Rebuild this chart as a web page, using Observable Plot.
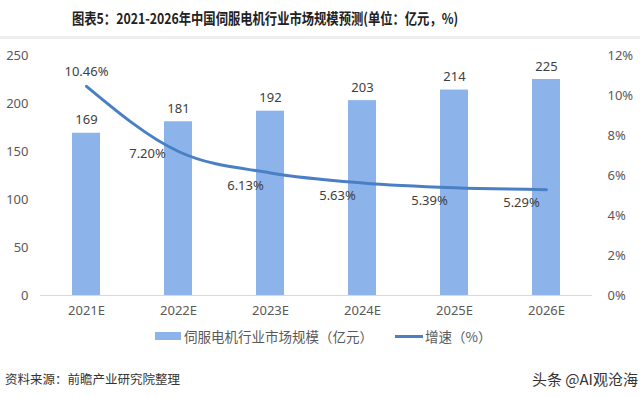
<!DOCTYPE html>
<html><head><meta charset="utf-8">
<script src="https://cdn.jsdelivr.net/npm/d3@7"></script>
<script src="https://cdn.jsdelivr.net/npm/@observablehq/plot@0.6"></script>
<style>
body{margin:0;background:#fff;font-family:"Noto Sans","Noto Sans CJK SC",sans-serif;}
#wrap{position:relative;width:640px;height:397px;overflow:hidden;background:#fff;}
#title{position:absolute;top:0;left:72px;height:36px;line-height:36px;white-space:nowrap;font-family:"Noto Sans CJK SC",sans-serif;font-weight:bold;font-size:15px;color:#222;transform:scaleX(0.82);transform-origin:left center;}
#sep{position:absolute;top:36px;left:0;width:640px;height:3px;background:#eeeeee;}
#chart{position:absolute;top:40px;left:0;}
#legend{position:absolute;top:326px;left:0;width:640px;height:20px;font-family:"Noto Sans CJK SC",sans-serif;font-size:13.5px;color:#595959;}
.sw{position:absolute;}
.lt{position:absolute;top:0;line-height:20px;white-space:nowrap;}
#src{position:absolute;left:5px;top:369px;font-family:"Noto Sans CJK SC",sans-serif;font-size:12.5px;color:#333;}
#wm{position:absolute;right:2px;top:368px;font-family:"Noto Sans CJK SC",sans-serif;font-size:15px;color:#333;}
</style></head>
<body><div id="wrap">
<div id="title">图表5：2021-2026年中国伺服电机行业市场规模预测(单位：亿元，%)</div>
<div id="sep"></div>
<div id="chart"></div>
<div id="legend">
  <div class="sw" style="left:155px;top:6px;width:26px;height:8px;background:#8cb4ea;"></div>
  <div class="lt" style="left:184px;">伺服电机行业市场规模（亿元）</div>
  <div class="sw" style="left:395px;top:9px;width:28px;height:3px;background:#4a7fc4;"></div>
  <div class="lt" style="left:425px;">增速（%）</div>
</div>
<div id="src">资料来源：前瞻产业研究院整理</div>
<div id="wm">头条 @AI观沧海</div>
</div>
<script>
const years = ["2021E","2022E","2023E","2024E","2025E","2026E"];
const market = [169,181,192,203,214,225];
const growth = [10.46,7.20,6.13,5.63,5.39,5.29];
const leftTicks = [0,50,100,150,200,250];
const rightTicks = [0,2,4,6,8,10,12];

const pctMax = 12, valMax = 250;
const toVal = p => p * valMax / pctMax;
const data = years.map((y,i)=>({year:y, value:market[i], growth:growth[i], g:toVal(growth[i]), i}));

const barColor = "#8cb4ea", lineColor = "#4a7fc4", txt = "#595959";

const chart = Plot.plot({
  width: 640, height: 285,
  marginLeft: 40, marginRight: 48, marginTop: 15, marginBottom: 30,
  style: {fontFamily: "'Noto Sans', sans-serif", fontSize: "12.5px", color: txt, background: "transparent"},
  x: {domain: years, paddingInner: 0.7, paddingOuter: 0.35, label: null},
  y: {domain: [0, valMax], label: null},
  marks: [
    Plot.barY(data, {x: "year", y: "value", fill: barColor}),
    Plot.ruleY([0], {stroke: "#d9d9d9"}),
    Plot.text(data, {x: "year", y: "value", text: d => String(d.value), dy: -13, fill: "#404040", fontSize: 13}),
    Plot.lineY(data, {x: "year", y: "g", stroke: lineColor, strokeWidth: 3, curve: "monotone-x"}),
    Plot.text(data.filter(d=>d.i===0), {x: "year", y: "g", text: d => d.growth.toFixed(2)+"%", dy: -14, fill: "#404040", fontSize: 13}),
    Plot.text(data.filter(d=>d.i===1), {x: "year", y: "g", text: d => d.growth.toFixed(2)+"%", dx: -31, dy: 2, fill: "#404040", fontSize: 13}),
    Plot.text(data.filter(d=>d.i>=2), {x: "year", y: "g", text: d => d.growth.toFixed(2)+"%", dx: -25, dy: 13, fill: "#404040", fontSize: 13}),
    Plot.axisX({tickSize: 0, tickPadding: 10, fontSize: 13, color: txt}),
    Plot.axisY({anchor: "left", ticks: leftTicks, tickSize: 0, tickPadding: 12, fontSize: 13, color: txt}),
    Plot.axisY({anchor: "right", ticks: rightTicks.map(toVal), tickSize: 0, tickPadding: 15, textAnchor: "start", fontSize: 13, color: txt, tickFormat: d => Math.round(d*pctMax/valMax) + "%"})
  ]
});
document.getElementById("chart").appendChild(chart);
</script>
</body></html>
